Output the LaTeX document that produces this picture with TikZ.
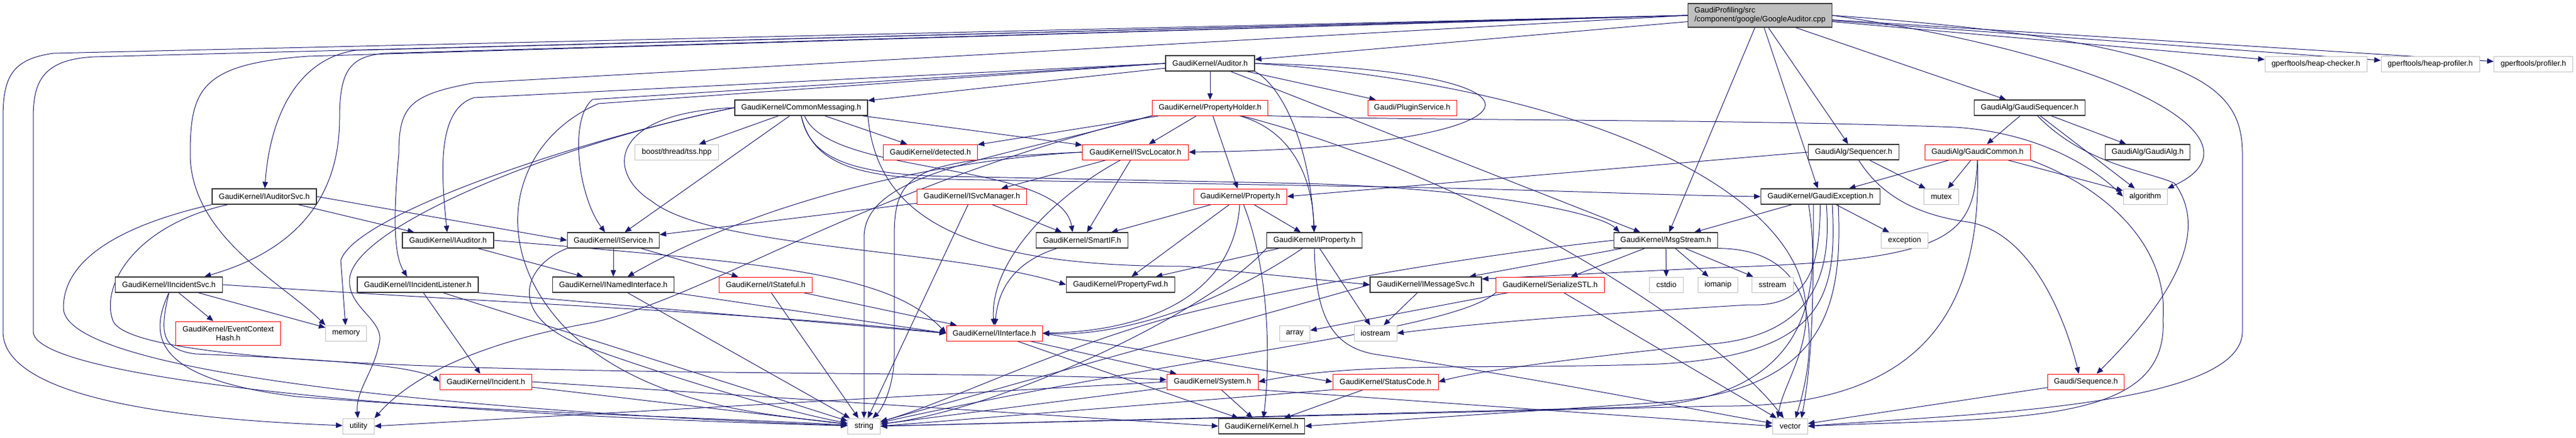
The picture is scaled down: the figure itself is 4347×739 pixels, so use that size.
\documentclass[tikz,border=0pt]{standalone}
\usepackage{fontspec}
\setmainfont{Liberation Sans}
\usetikzlibrary{arrows.meta,calc}
\definecolor{depblue}{HTML}{191970}
\definecolor{hdrgray}{HTML}{BFBFBF}
\definecolor{hdrred}{HTML}{FF0000}
\pgfdeclarelayer{bg}
\pgfsetlayers{bg,main}
\begin{document}
\begin{tikzpicture}[x=1pt,y=-1pt,
    hdr/.style={draw=black!80,line width=1.3pt,fill=white,minimum height=26pt,inner sep=0pt,font=\fontsize{13}{15}\selectfont},
    redhdr/.style={hdr,draw=hdrred,line width=1pt},
    stdhdr/.style={hdr,draw=hdrgray,line width=1pt},
    dep/.style={depblue,line width=1pt,-{Triangle[length=11pt,width=9pt]}}]
\useasboundingbox (0,0) rectangle (4347,739);

\node[hdr,fill=hdrgray,minimum width=243pt,minimum height=40pt,align=left] (root) at (2970,26) {GaudiProfiling/src\\/component/google/GoogleAuditor.cpp};
\node[hdr,minimum width=150pt] (auditor) at (2042,107) {GaudiKernel/Auditor.h};
\node[stdhdr,minimum width=172pt] (hchk) at (3908,108) {gperftools/heap-checker.h};
\node[stdhdr,minimum width=166pt] (hprof) at (4101,108) {gperftools/heap-profiler.h};
\node[stdhdr,minimum width=133pt] (prof) at (4275,108) {gperftools/profiler.h};
\node[hdr,minimum width=224pt] (cmsg) at (1352,182) {GaudiKernel/CommonMessaging.h};
\node[redhdr,minimum width=195pt] (pholder) at (2042,182) {GaudiKernel/PropertyHolder.h};
\node[redhdr,minimum width=150pt] (plugin) at (2383,182) {Gaudi/PluginService.h};
\node[hdr,minimum width=187pt] (gseq) at (3425,182) {GaudiAlg/GaudiSequencer.h};
\node[stdhdr,minimum width=141pt] (boost) at (1142,257) {boost/thread/tss.hpp};
\node[redhdr,minimum width=159pt] (detected) at (1570,257) {GaudiKernel/detected.h};
\node[redhdr,minimum width=179pt] (svcloc) at (1916,257) {GaudiKernel/ISvcLocator.h};
\node[hdr,minimum width=153pt] (seq) at (3128,257) {GaudiAlg/Sequencer.h};
\node[redhdr,minimum width=178pt] (gcommon) at (3337,257) {GaudiAlg/GaudiCommon.h};
\node[hdr,minimum width=143pt] (galg) at (3624,257) {GaudiAlg/GaudiAlg.h};
\node[hdr,minimum width=176pt] (iauditorsvc) at (446,332) {GaudiKernel/IAuditorSvc.h};
\node[redhdr,minimum width=185pt] (svcmgr) at (1640,332) {GaudiKernel/ISvcManager.h};
\node[redhdr,minimum width=157pt] (property) at (2093,332) {GaudiKernel/Property.h};
\node[hdr,minimum width=201pt] (gexc) at (3072,332) {GaudiKernel/GaudiException.h};
\node[stdhdr,minimum width=59pt] (mutex) at (3276,332) {mutex};
\node[stdhdr,minimum width=74pt] (algorithm) at (3620,332) {algorithm};
\node[hdr,minimum width=154pt] (iauditor) at (756,406) {GaudiKernel/IAuditor.h};
\node[hdr,minimum width=155pt] (iservice) at (1035,406) {GaudiKernel/IService.h};
\node[hdr,minimum width=155pt] (smartif) at (1826,406) {GaudiKernel/SmartIF.h};
\node[hdr,minimum width=161pt] (iproperty) at (2218,406) {GaudiKernel/IProperty.h};
\node[hdr,minimum width=175pt] (msgstream) at (2811,406) {GaudiKernel/MsgStream.h};
\node[stdhdr,minimum width=79pt] (exception) at (3214,406) {exception};
\node[hdr,minimum width=181pt] (iincsvc) at (285,481) {GaudiKernel/IIncidentSvc.h};
\node[hdr,minimum width=204pt] (iinclist) at (705,481) {GaudiKernel/IIncidentListener.h};
\node[hdr,minimum width=205pt] (inamed) at (1035,481) {GaudiKernel/INamedInterface.h};
\node[redhdr,minimum width=157pt] (istateful) at (1292,481) {GaudiKernel/IStateful.h};
\node[hdr,minimum width=183pt] (propfwd) at (1891,481) {GaudiKernel/PropertyFwd.h};
\node[hdr,minimum width=188pt] (imsgsvc) at (2406,481) {GaudiKernel/IMessageSvc.h};
\node[redhdr,minimum width=183pt] (serial) at (2616,481) {GaudiKernel/SerializeSTL.h};
\node[stdhdr,minimum width=57pt] (cstdio) at (2812,481) {cstdio};
\node[stdhdr,minimum width=67pt] (iomanip) at (2899,481) {iomanip};
\node[stdhdr,minimum width=70pt] (sstream) at (2991,481) {sstream};
\node[redhdr,minimum width=177pt,minimum height=40pt,align=center] (evhash) at (385,563) {GaudiKernel/EventContext\\Hash.h};
\node[stdhdr,minimum width=69pt] (memory) at (584,563) {memory};
\node[redhdr,minimum width=162pt] (iinterface) at (1678,563) {GaudiKernel/IInterface.h};
\node[stdhdr,minimum width=51pt] (array) at (2185,563) {array};
\node[stdhdr,minimum width=72pt] (iostream) at (2321,563) {iostream};
\node[redhdr,minimum width=155pt] (incident) at (820,645) {GaudiKernel/Incident.h};
\node[redhdr,minimum width=154pt] (system) at (2046,645) {GaudiKernel/System.h};
\node[redhdr,minimum width=178pt] (statuscode) at (2338,645) {GaudiKernel/StatusCode.h};
\node[redhdr,minimum width=129pt] (sequence) at (3520,645) {Gaudi/Sequence.h};
\node[stdhdr,minimum width=53pt] (utility) at (605,720) {utility};
\node[stdhdr,minimum width=55pt] (string) at (1458,720) {string};
\node[hdr,minimum width=145pt] (kernel) at (2129,720) {GaudiKernel/Kernel.h};
\node[stdhdr,minimum width=59pt] (vector) at (3021,720) {vector};

\begin{pgfonlayer}{bg}
\draw[dep] (root) -- (auditor);
\draw[dep] (root) -- (hchk);
\draw[dep] (root) -- (hprof);
\draw[dep] (root) -- (prof);
\draw[dep] (root) -- (gseq);
\draw[dep] (root) -- (seq);
\draw[dep] (root) -- (gexc);
\draw[dep] (root) -- (msgstream);
\draw[dep] (root.east) .. controls (3600,100) and (3830,240) .. (algorithm.north east);
\draw[dep] (root.east) .. controls (3700,70) and (3784,140) .. (3784,260) -- (3784,560) .. controls (3784,690) and (3300,700) .. (vector.east);
\draw[dep] (root.west) -- (600,85) .. controls (500,100) and (455,200) .. (iauditorsvc);
\draw[dep] (root.west) -- (650,90) .. controls (590,95) and (573,120) .. (573,200) .. controls (573,380) and (440,440) .. ($(iincsvc.north)+(60,0)$);
\draw[dep] (root.west) -- (800,140) .. controls (690,160) and (673,180) .. (673,260) .. controls (660,400) and (670,440) .. ($(iinclist.north)+(-18,0)$);
\draw[dep] (root.west) -- (520,95) .. controls (340,108) and (321,150) .. (321,260) .. controls (321,400) and (480,480) .. (memory.north west);
\draw[dep] (root.west) -- (90,90) .. controls (20,100) and (5,130) .. (5,200) -- (5,560) .. controls (5,690) and (400,712) .. (utility);
\draw[dep] (root.west) -- (160,96) .. controls (70,100) and (56,140) .. (56,200) -- (56,560) .. controls (56,640) and (700,700) .. (string);

\draw[dep] (auditor) -- (pholder);
\draw[dep] (auditor) -- (cmsg);
\draw[dep] (auditor) -- (plugin);
\draw[dep] (auditor.south east) .. controls (2170,150) and (2212,260) .. (iproperty);
\draw[dep] (auditor) -- ($(msgstream.north)+(-43,0)$);
\draw[dep] (auditor.east) .. controls (2680,120) and (2620,250) .. (svcloc.east);
\draw[dep] (auditor.west) -- (800,165) .. controls (735,185) and (745,300) .. (iauditor);
\draw[dep] (auditor.west) -- (1000,168) .. controls (960,200) and (975,330) .. ($(iservice.north)+(-14,0)$);
\draw[dep] (auditor.west) -- (1010,175) .. controls (860,240) and (820,420) .. (960,560) .. controls (1100,690) and (1300,700) .. (string);
\draw[dep] (auditor.east) .. controls (2600,140) and (2950,280) .. (3030,450) .. controls (3080,560) and (3010,640) .. ($(vector.north)+(-21,0)$);

\draw[dep] (pholder) -- (detected);
\draw[dep] (pholder) -- (svcloc);
\draw[dep] (pholder) -- (property);
\draw[dep] (pholder) .. controls (2180,220) and (2215,300) .. (iproperty);
\draw[dep] (pholder.south west) .. controls (1680,270) and (1460,290) .. (1458,400) -- (string);
\draw[dep] (pholder.south east) .. controls (2400,205) and (2900,200) .. (3300,215) .. controls (3450,225) and (3540,290) .. (algorithm.west);
\draw[dep] (pholder) .. controls (2500,300) and (2900,560) .. ($(vector.north)+(-11,0)$);
\draw[dep] (pholder.south west) .. controls (1450,320) and (1200,500) .. (1000,545) .. controls (800,580) and (690,640) .. (utility.north east);

\draw[dep] (cmsg) -- (boost);
\draw[dep] (cmsg) -- (detected);
\draw[dep] (cmsg) -- (iservice);
\draw[dep] (cmsg) -- (svcloc);
\draw[dep] (cmsg) .. controls (1400,300) and (1790,270) .. ($(smartif.north)+(-16,0)$);
\draw[dep] (cmsg.south) .. controls (1365,260) and (1420,295) .. (1600,298) -- (2200,310) .. controls (2500,318) and (2700,360) .. ($(msgstream.north)+(-78,0)$);
\draw[dep] (cmsg.south) .. controls (1370,270) and (1430,300) .. (1600,303) -- (2300,315) .. controls (2600,320) and (2800,330) .. (gexc.west);
\draw[dep] (cmsg.south east) .. controls (1480,380) and (1650,450) .. (2000,450) -- (imsgsvc.west);
\draw[dep] (cmsg.west) .. controls (1030,190) and (1020,290) .. (1100,340) .. controls (1200,420) and (1600,420) .. (propfwd.west);
\draw[dep] (cmsg.west) .. controls (1000,230) and (600,360) .. (575,440) -- (memory);
\draw[dep] (cmsg.west) .. controls (950,240) and (600,380) .. (590,470) .. controls (585,520) and (650,540) .. (640,580) .. controls (630,630) and (600,660) .. (utility);

\draw[dep] (svcloc) -- (svcmgr);
\draw[dep] (svcloc) -- (smartif);
\draw[dep] (svcloc) .. controls (1780,330) and (1670,440) .. (iinterface);
\draw[dep] (svcloc.west) .. controls (1540,270) and (1509,290) .. (1509,400) -- (1509,600) .. controls (1509,650) and (1490,690) .. (string);
\draw[dep] (svcloc.west) .. controls (1600,270) and (1300,330) .. (inamed);

\draw[dep] (svcmgr) -- (smartif);
\draw[dep] (svcmgr) -- (iservice);
\draw[dep] (svcmgr) -- (string);

\draw[dep] (property) -- (smartif);
\draw[dep] (property) -- (iproperty);
\draw[dep] (property) -- (propfwd);
\draw[dep] (property) .. controls (2080,520) and (1900,560) .. (iinterface.east);
\draw[dep] (property) .. controls (2140,450) and (2145,600) .. ($(kernel.north)+(3,0)$);

\draw[dep] (iproperty) -- (propfwd);
\draw[dep] (iproperty) -- (iostream);
\draw[dep] (iproperty) .. controls (2050,520) and (1880,570) .. (iinterface.east);
\draw[dep] (iproperty.south west) .. controls (2050,520) and (1700,690) .. (string);
\draw[dep] (iproperty.south) .. controls (2220,540) and (2250,590) .. (2330,600) .. controls (2600,640) and (2900,700) .. (vector);

\draw[dep] (smartif) .. controls (1720,440) and (1685,480) .. (iinterface);

\draw[dep] (iauditorsvc) -- (iauditor);
\draw[dep] (iauditorsvc.east) -- (iservice.west);
\draw[dep] (iauditorsvc.south west) .. controls (250,370) and (107,420) .. (107,520) .. controls (107,640) and (900,700) .. (string);
\draw[dep] (iauditorsvc) .. controls (230,380) and (170,480) .. (190,540) .. controls (220,650) and (1500,620) .. (system);

\draw[dep] (iincsvc) -- (evhash);
\draw[dep] (iincsvc) -- (memory);
\draw[dep] (iincsvc.east) .. controls (900,515) and (1300,530) .. (iinterface.west);
\draw[dep] (iincsvc.south) .. controls (270,560) and (270,590) .. (330,598) .. controls (500,605) and (700,615) .. (incident.west);
\draw[dep] (iincsvc.south) .. controls (250,570) and (260,640) .. (500,670) .. controls (900,700) and (1200,705) .. (string);

\draw[dep] (iinclist) -- (incident);
\draw[dep] (iinclist.south east) -- (iinterface.west);
\draw[dep] (iinclist) -- (string);

\draw[dep] (iauditor) -- (inamed);
\draw[dep] (iauditor.east) .. controls (1300,445) and (1500,460) .. (iinterface.west);

\draw[dep] (iservice) -- (inamed);
\draw[dep] (iservice) -- (istateful);
\draw[dep] (iservice.south west) .. controls (880,450) and (850,540) .. (1000,590) .. controls (1200,660) and (1350,700) .. (string);

\draw[dep] (inamed.south east) -- (iinterface.west);
\draw[dep] (inamed) -- (string);
\draw[dep] (istateful) -- (iinterface);
\draw[dep] (istateful) -- (string);

\draw[dep] (incident) -- (string);
\draw[dep] (incident.east) -- (kernel.west);

\draw[dep] (iinterface) -- (system);
\draw[dep] (iinterface.east) -- (statuscode.west);
\draw[dep] (iinterface) -- (kernel);

\draw[dep] (system) -- (kernel);
\draw[dep] (system) -- (string);
\draw[dep] (system.south east) -- (vector.west);
\draw[dep] (system.west) -- (utility.east);

\draw[dep] (statuscode) -- (kernel);
\draw[dep] (statuscode.south west) -- (string.east);

\draw[dep] (imsgsvc) -- (iostream);
\draw[dep] (imsgsvc.west) -- (string);

\draw[dep] (serial) -- (array);
\draw[dep] (serial) -- (vector);
\draw[dep] (serial.south west) .. controls (2450,560) and (2000,600) .. (string);

\draw[dep] (msgstream) -- (imsgsvc);
\draw[dep] (msgstream) -- (serial);
\draw[dep] (msgstream) -- (cstdio);
\draw[dep] (msgstream) -- (iomanip);
\draw[dep] (msgstream) -- (sstream);
\draw[dep] (msgstream.west) .. controls (2500,430) and (2200,480) .. (2000,530) .. controls (1800,580) and (1600,680) .. (string);
\draw[dep] (msgstream.south east) .. controls (3060,420) and (3075,560) .. ($(vector.north)+(9,0)$);

\draw[dep] (gexc) -- (msgstream);
\draw[dep] (gexc) -- (exception);
\draw[dep] ($(gexc.south)+(-12,0)$) .. controls (3060,480) and (3060,600) .. ($(vector.north)+(19,0)$);
\draw[dep] (gexc) .. controls (3070,440) and (3060,520) .. (2950,515) .. controls (2700,530) and (2500,545) .. (iostream.east);
\draw[dep] ($(gexc.south)+(-20,0)$) .. controls (3085,560) and (3000,680) .. (2750,688) -- (string.east);
\draw[dep] ($(gexc.south)+(10,0)$) .. controls (3090,450) and (3070,560) .. (2900,580) .. controls (2700,600) and (2500,625) .. (statuscode.east);
\draw[dep] ($(gexc.south)+(20,0)$) .. controls (3100,500) and (3080,600) .. (2800,615) .. controls (2500,625) and (2300,610) .. (system.east);
\draw[dep] ($(gexc.south)+(30,0)$) .. controls (3110,520) and (3080,660) .. (2800,680) -- (kernel.east);

\draw[dep] (gcommon) -- (gexc);
\draw[dep] (gcommon) -- (mutex);
\draw[dep] (gcommon) -- (algorithm);
\draw[dep] (gcommon.south) .. controls (3330,400) and (3300,440) .. (2900,452) -- ($(imsgsvc.north east)+(0,4)$);
\draw[dep] (gcommon.south east) .. controls (3560,320) and (3660,420) .. (3650,540) .. controls (3660,720) and (3400,705) .. (vector.east);
\draw[dep] (gcommon.south) .. controls (3345,520) and (3250,690) .. (2900,686) -- (string.east);

\draw[dep] (gseq) -- (gcommon);
\draw[dep] (gseq) -- (galg);
\draw[dep] (gseq) -- (algorithm);
\draw[dep] (gseq) .. controls (3520,280) and (3630,290) .. (3670,310) .. controls (3720,380) and (3690,480) .. ($(sequence.north)+(18,0)$);

\draw[dep] (seq.west) -- (property.east);
\draw[dep] (seq) -- (mutex);
\draw[dep] (seq) .. controls (3180,340) and (3250,365) .. (3320,375) .. controls (3420,390) and (3480,520) .. ($(sequence.north)+(-12,0)$);

\draw[dep] (sequence) -- (vector);
\end{pgfonlayer}
\end{tikzpicture}
\end{document}
